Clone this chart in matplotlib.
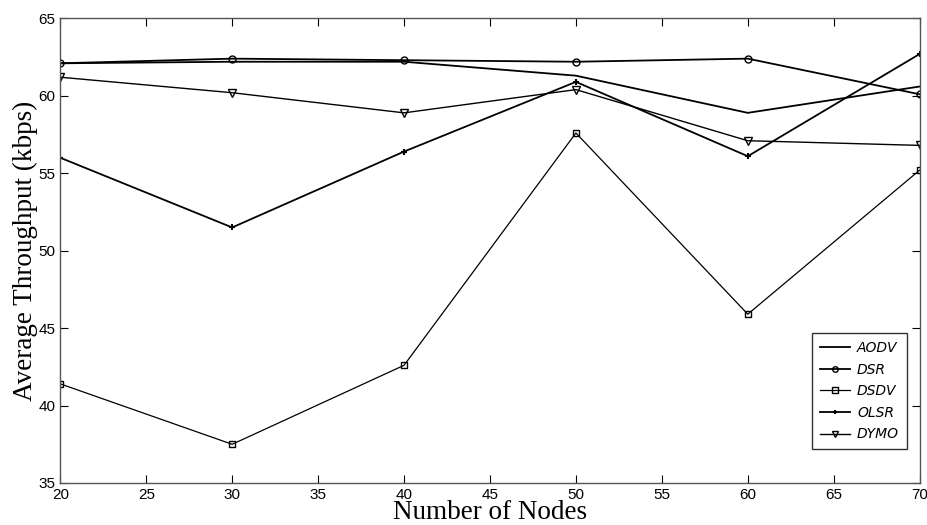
import matplotlib
matplotlib.use("Agg")
import matplotlib.pyplot as plt

nodes = [20, 30, 40, 50, 60, 70]
aodv = [62.1, 62.2, 62.2, 61.3, 58.9, 60.6]
dsr = [62.1, 62.4, 62.3, 62.2, 62.4, 60.1]
dsdv = [41.4, 37.5, 42.6, 57.6, 45.9, 55.2]
olsr = [56.0, 51.5, 56.4, 60.9, 56.1, 62.7]
dymo = [61.2, 60.2, 58.9, 60.4, 57.1, 56.8]

fig = plt.figure(figsize=(9.28, 5.25), dpi=100)
ax = fig.add_axes([0.065, 0.08, 0.926, 0.885])

ax.plot(nodes, aodv, color='black', lw=1.3, label='AODV')
ax.plot(nodes, dsr, color='black', lw=1.3, marker='o', ms=5, mfc='none', mew=1.0, label='DSR')
ax.plot(nodes, dsdv, color='black', lw=0.9, marker='s', ms=5, mfc='none', mew=1.0, label='DSDV')
ax.plot(nodes, olsr, color='black', lw=1.3, marker='+', ms=4, mew=1.5, label='OLSR')
ax.plot(nodes, dymo, color='black', lw=1.0, marker='v', ms=6, mfc='none', mew=1.0, label='DYMO')

ax.set_xlim(20, 70)
ax.set_ylim(35, 65)
ax.set_xticks(range(20, 71, 5))
ax.set_yticks(range(35, 66, 5))
ax.tick_params(direction='in', top=True, right=True, length=6, labelsize=11)
for lbl in ax.get_xticklabels() + ax.get_yticklabels():
    lbl.set_family('Liberation Sans')
    lbl.set_stretch('condensed')
for s in ax.spines.values():
    s.set_color('#555555')
    s.set_linewidth(1.0)

ax.set_xlabel('Number of Nodes', family='Liberation Serif', fontsize=19.5, labelpad=-1)
ax.set_ylabel('Average Throughput (kbps)', family='Liberation Serif', fontsize=19.5, labelpad=0)

leg = ax.legend(loc='lower right', bbox_to_anchor=(0.985, 0.073), borderaxespad=0,
                prop={'family': 'DejaVu Sans', 'style': 'italic', 'size': 10},
                frameon=True, fancybox=False, edgecolor='black', handlelength=2.2,
                handletextpad=0.5, labelspacing=0.55, borderpad=0.55, markerscale=0.8)
leg.get_frame().set_linewidth(1.0)

fig.savefig('out.png', dpi=100)
